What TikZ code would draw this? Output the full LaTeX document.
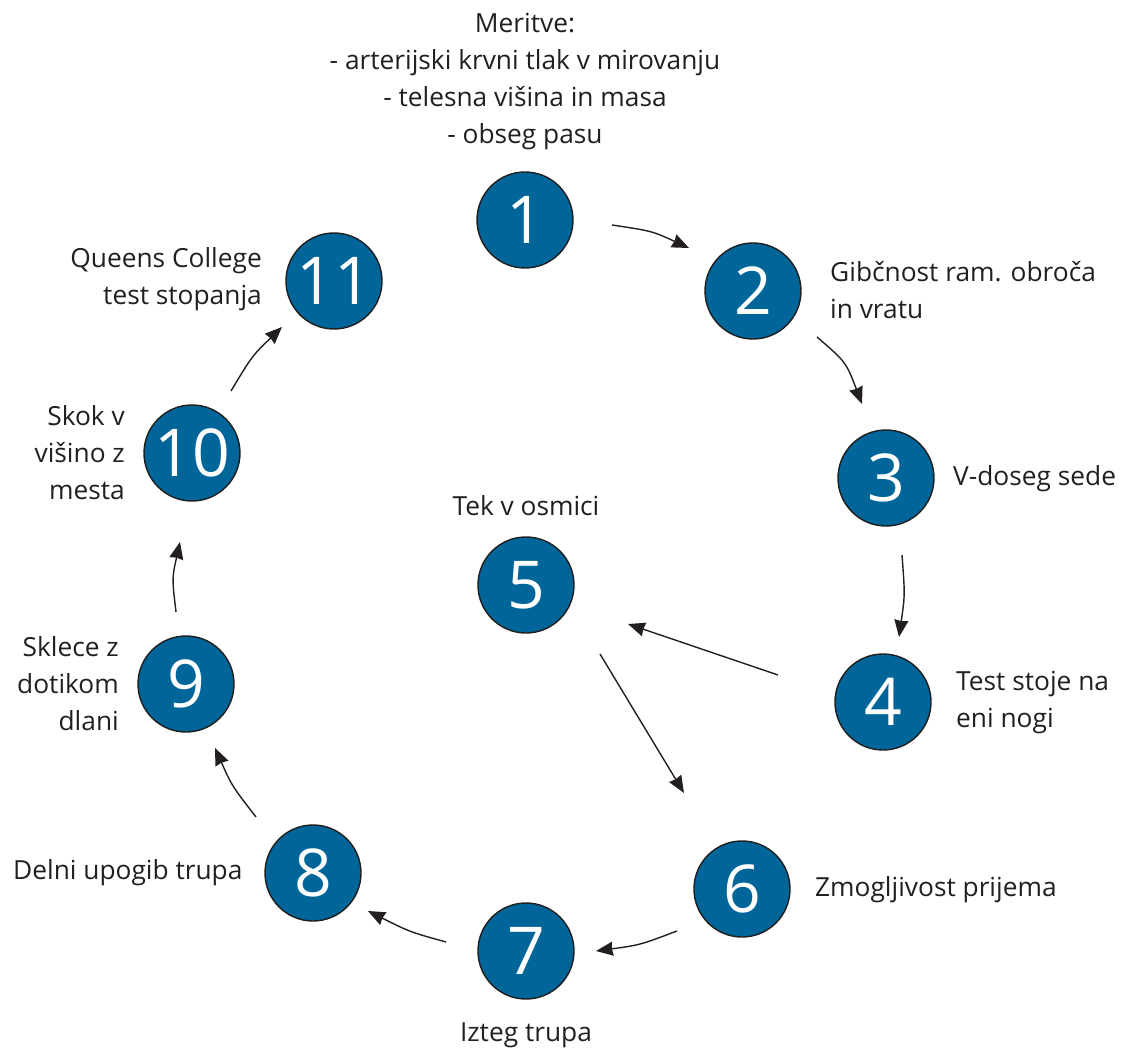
\documentclass[tikz,border=0pt]{standalone}
\usepackage{fontspec}
\setmainfont{Open Sans}
\usetikzlibrary{arrows.meta}
\definecolor{stepblue}{RGB}{0,101,153}
\definecolor{txtgray}{RGB}{35,31,32}
\definecolor{rimgray}{RGB}{30,30,30}
\tikzset{
  stepcircle/.style={circle, draw=rimgray, line width=1.4pt, fill=stepblue,
    minimum size=96pt, inner sep=0pt, text=white,
    font=\fontsize{66}{66}\selectfont},
  lbl/.style={text=txtgray, inner sep=0pt, font=\fontsize{26.3}{37}\selectfont},
  conn/.style={draw=txtgray, line width=1.4pt, -{Stealth[length=17pt,width=14pt,inset=1pt]}}
}
\begin{document}
\begin{tikzpicture}[x=1pt,y=-1pt]
\useasboundingbox (0,0) rectangle (1122,1048);
% circles
\node[stepcircle] (n1) at (525,220) {1};
\node[stepcircle] (n2) at (753,291) {2};
\node[stepcircle] (n3) at (886,478) {3};
\node[stepcircle] (n4) at (883,702) {4};
\node[stepcircle] (n5) at (526,585) {5};
\node[stepcircle] (n6) at (742,889) {6};
\node[stepcircle] (n7) at (526,951) {7};
\node[stepcircle] (n8) at (313,873) {8};
\node[stepcircle] (n9) at (186,684) {9};
\node[stepcircle] (n10) at (192,453) {10};
\node[stepcircle] (n11) at (334,281) {11};
% labels (multi-line nodes: anchored at the baseline of their last line)
\node[lbl, anchor=base, align=center] (t1) at (525,144) {Meritve:\\- arterijski krvni tlak v mirovanju\\- telesna višina in masa\\- obseg pasu};
\node[lbl, anchor=base west, align=left] (t2) at (830,319) {Gibčnost ram. obroča\\in vratu};
\node[lbl, anchor=base west] (t3) at (953,485) {V-doseg sede};
\node[lbl, anchor=base west, align=left] (t4) at (956,727) {Test stoje na\\eni nogi};
\node[lbl, anchor=base] (t5) at (526,515) {Tek v osmici};
\node[lbl, anchor=base west] (t6) at (815,896) {Zmogljivost prijema};
\node[lbl, anchor=base] (t7) at (526,1041) {Izteg trupa};
\node[lbl, anchor=base west] (t8) at (13,879) {Delni upogib trupa};
\node[lbl, anchor=base east, align=right] (t9) at (119,730) {Sklece z\\dotikom\\dlani};
\node[lbl, anchor=base east, align=right] (t10) at (125,499) {Skok v\\višino z\\mesta};
\node[lbl, anchor=base east, align=right] (t11) at (262,305) {Queens College\\test stopanja};
% connector end points
\coordinate (a1s) at (612,225);
\coordinate (a1e) at (689,248);
\coordinate (a2s) at (817,337);
\coordinate (a2e) at (862,404);
\coordinate (a3s) at (902,555);
\coordinate (a3e) at (899,637);
\coordinate (a4s) at (778,675);
\coordinate (a4e) at (628,624);
\coordinate (a5s) at (600,654);
\coordinate (a5e) at (684,793);
\coordinate (a6s) at (677,931);
\coordinate (a6e) at (596,951);
\coordinate (a7s) at (446,942);
\coordinate (a7e) at (368,911);
\coordinate (a8s) at (256,817);
\coordinate (a8e) at (215,748);
\coordinate (a9s) at (176,612);
\coordinate (a9e) at (180,542);
\coordinate (a10s) at (231,391);
\coordinate (a10e) at (282,327);
% connectors
\draw[conn] (a1s) .. controls (652,231) .. (a1e);
\draw[conn] (a2s) .. controls (846,362) .. (a2e);
\draw[conn] (a3s) .. controls (905,595) .. (a3e);
\draw[conn] (a4s) -- (a4e);
\draw[conn] (a5s) -- (a5e);
\draw[conn] (a6s) .. controls (640,945) .. (a6e);
\draw[conn] (a7s) .. controls (410,932) .. (a7e);
\draw[conn] (a8s) .. controls (232,786) .. (a8e);
\draw[conn] (a9s) .. controls (172,578) .. (a9e);
\draw[conn] (a10s) .. controls (252,356) .. (a10e);
\end{tikzpicture}
\end{document}
